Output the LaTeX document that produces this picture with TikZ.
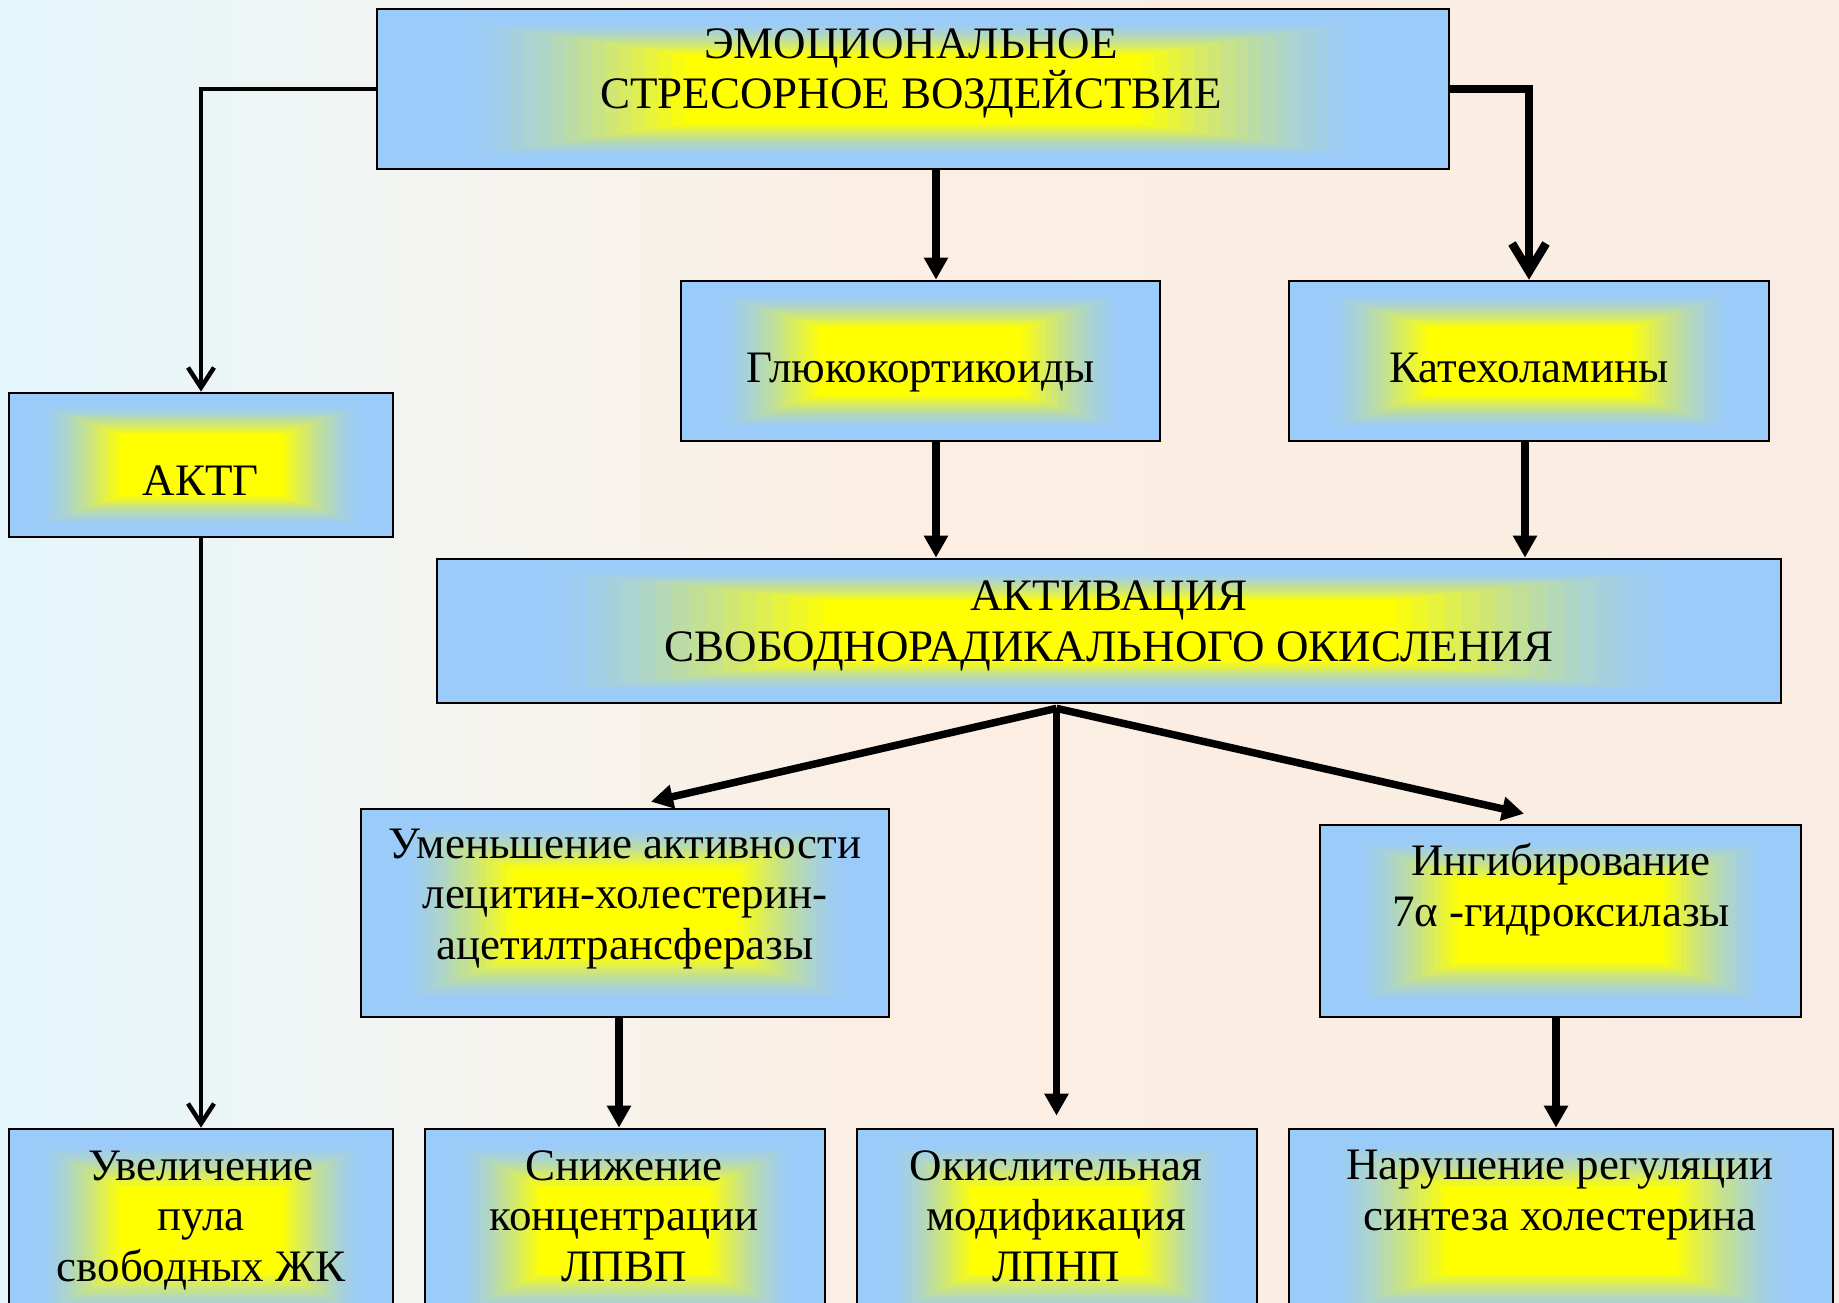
\documentclass[tikz,border=0pt]{standalone}
\usepackage{fontspec}
\setmainfont{Liberation Serif}
\usetikzlibrary{arrows.meta,calc}
\definecolor{boxblue}{RGB}{154,203,249}
\definecolor{boxyellow}{RGB}{255,255,0}
\definecolor{bgA}{RGB}{228,246,252}
\definecolor{bgB}{RGB}{244,244,240}
\definecolor{bgC}{RGB}{252,238,226}
\definecolor{bgD}{RGB}{249,236,226}
\pgfdeclarehorizontalshading{bgshade}{100bp}{color(0bp)=(bgA); color(25bp)=(bgA); color(37bp)=(bgB); color(50bp)=(bgC); color(75bp)=(bgD); color(100bp)=(bgD)}
\tikzset{
  gbox/.style={rectangle, draw=black, line width=2.7pt, inner sep=0pt,
    path picture={
      \foreach \k in {0,...,39}{
        \pgfmathsetmacro\s{1-\k/40}
        \pgfmathsetmacro\u{min(1,max(0,(\k/40-0.15)/0.42))}
        \pgfmathsetmacro\m{100*\u*sqrt(\u)}
        \fill[boxyellow!\m!boxblue]
          ($(path picture bounding box.center)!\s!(path picture bounding box.south west)$)
          rectangle
          ($(path picture bounding box.center)!\s!(path picture bounding box.north east)$);
      }
    }},
  txt/.style={align=center, font=\fontsize{45}{50.5}\selectfont, inner sep=0pt, anchor=base},
  thinarr/.style={line width=4.5pt, -{Straight Barb[length=20pt,width=26pt]}},
  boldarr/.style={line width=8.5pt, -{Straight Barb[length=28pt,width=34pt]}},
  filarr/.style={line width=7.5pt, -{Triangle[length=22pt,width=23pt]}}
}
\begin{document}
\begin{tikzpicture}[x=1pt,y=-1pt]
\useasboundingbox (0,0) rectangle (1839,1303);
\clip (0,0) rectangle (1839,1303);
\fill[shading=bgshade] (0,0) rectangle (1839,1303);

% boxes
\node[gbox, minimum width=1072pt, minimum height=160pt] (top) at (913,89) {};
\node[gbox, minimum width=384pt, minimum height=144pt] (aktg) at (201,465) {};
\node[gbox, minimum width=479pt, minimum height=160pt] (glu) at (920.5,361) {};
\node[gbox, minimum width=480pt, minimum height=160pt] (kat) at (1529,361) {};
\node[gbox, minimum width=1344pt, minimum height=144pt] (act) at (1109,631) {};
\node[gbox, minimum width=528pt, minimum height=208pt] (umen) at (625,913) {};
\node[gbox, minimum width=481pt, minimum height=192pt] (ingib) at (1560.5,921) {};
\node[gbox, minimum width=384pt, minimum height=202pt] (b1) at (201,1230) {};
\node[gbox, minimum width=400pt, minimum height=202pt] (b2) at (625,1230) {};
\node[gbox, minimum width=400pt, minimum height=202pt] (b3) at (1057,1230) {};
\node[gbox, minimum width=544pt, minimum height=202pt] (b4) at (1561,1230) {};

% texts (anchor = baseline of last line)
\node[txt] (ttop) at (911,109) {ЭМОЦИОНАЛЬНОЕ\\СТРЕСОРНОЕ ВОЗДЕЙСТВИЕ};
\node[txt] (taktg) at (201,495) {АКТГ};
\node[txt] (tglu) at (920.5,382) {Глюкокортикоиды};
\node[txt] (tkat) at (1529,382) {Катехоламины};
\node[txt] (tact) at (1109,661) {АКТИВАЦИЯ\\СВОБОДНОРАДИКАЛЬНОГО ОКИСЛЕНИЯ};
\node[txt] (tumen) at (625,959) {Уменьшение активности\\лецитин-холестерин-\\ацетилтрансферазы};
\node[txt] (tingib) at (1561,926) {Ингибирование\\7α -гидроксилазы};
\node[txt] (tb1) at (201,1281) {Увеличение\\пула\\свободных ЖК};
\node[txt] (tb2) at (624,1281) {Снижение\\концентрации\\ЛПВП};
\node[txt] (tb3) at (1056,1281) {Окислительная\\модификация\\ЛПНП};
\node[txt] (tb4) at (1560,1230) {Нарушение регуляции\\синтеза холестерина};

% connectors
\draw[thinarr] (top.west) -| (aktg.north);
\draw[boldarr] (top.east) -| (kat.north);
\draw[filarr] ([xshift=23pt]top.south) -- ([xshift=15.5pt]glu.north);
\draw[filarr] ([xshift=15.5pt]glu.south) -- ([xshift=-173pt]act.north);
\draw[filarr] ([xshift=-4pt]kat.south) -- ([xshift=416pt]act.north);
\draw[thinarr] (aktg.south) -- (b1.north);
\coordinate (fan) at ([xshift=-52.5pt,yshift=-4pt]act.south);
\draw[filarr] (fan) -- ([xshift=26pt,yshift=6pt]umen.north);
\draw[filarr] (fan) -- ([xshift=-36.5pt,yshift=10pt]ingib.north);
\draw[filarr, shorten >=12pt] (fan) -- (fan |- b3.north);
\draw[filarr] ([xshift=-6pt]umen.south) -- ([xshift=-6pt]b2.north);
\draw[filarr] ([xshift=-4.5pt]ingib.south) -- ([xshift=-5pt]b4.north);
\end{tikzpicture}
\end{document}
